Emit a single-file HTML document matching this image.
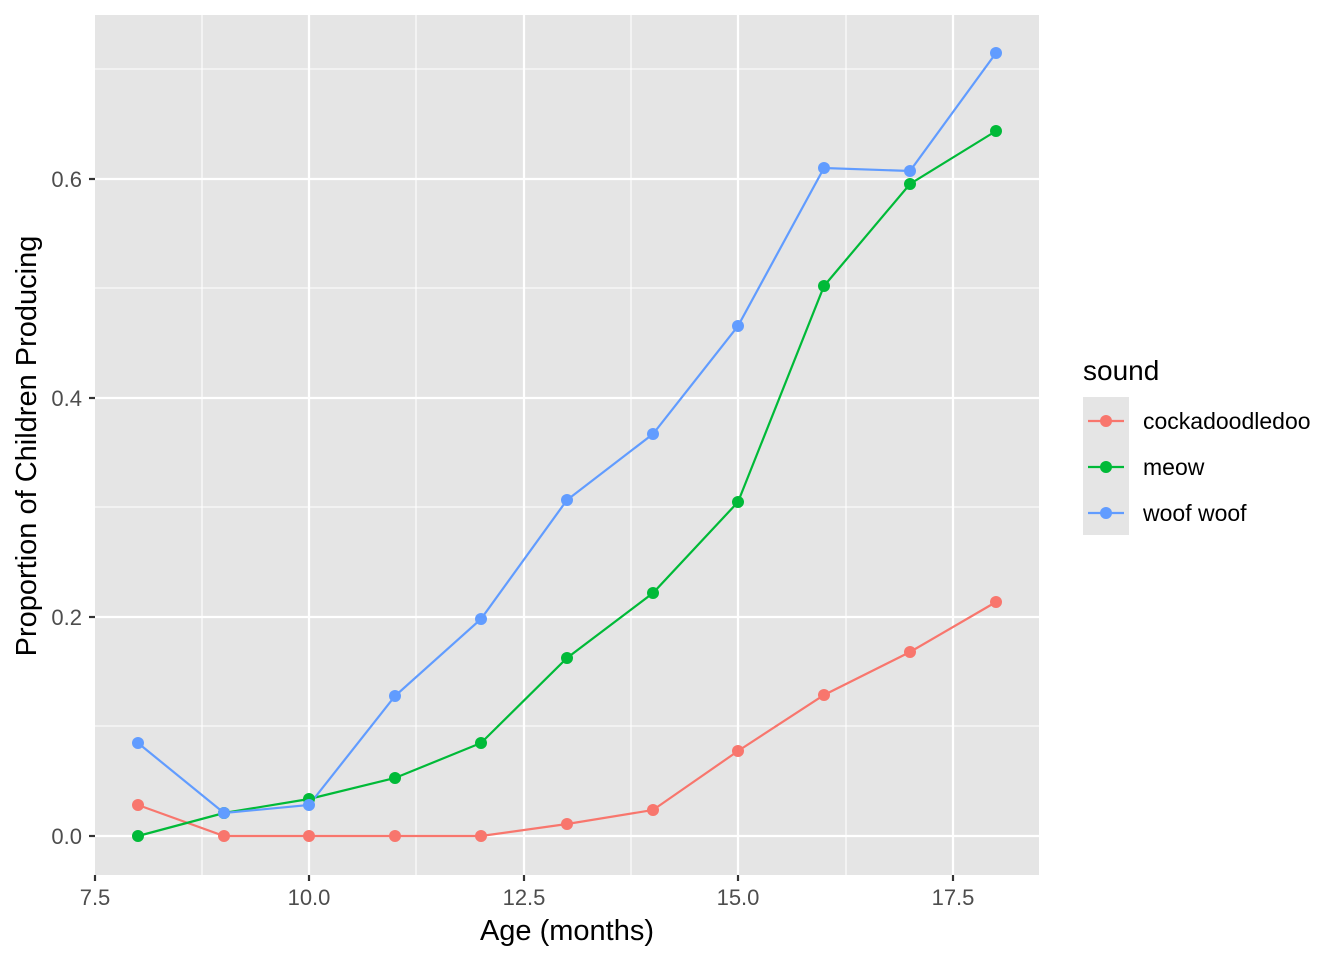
<!DOCTYPE html><html><head><style>body{margin:0;background:#fff}svg{display:block}text{font-family:"Liberation Sans",sans-serif}</style></head><body>
<svg width="1344" height="960" xmlns="http://www.w3.org/2000/svg">
<rect width="1344" height="960" fill="#fff"/>
<rect x="95" y="15" width="944" height="860" fill="#e5e5e5"/>
<g stroke="#fff" stroke-width="1.1">
<line x1="202" y1="15" x2="202" y2="875"/><line x1="416" y1="15" x2="416" y2="875"/><line x1="631" y1="15" x2="631" y2="875"/><line x1="846" y1="15" x2="846" y2="875"/>
<line x1="95" y1="726" x2="1039" y2="726"/><line x1="95" y1="507" x2="1039" y2="507"/><line x1="95" y1="288" x2="1039" y2="288"/><line x1="95" y1="69" x2="1039" y2="69"/>
</g>
<g stroke="#fff" stroke-width="2.2">
<line x1="309" y1="15" x2="309" y2="875"/><line x1="524" y1="15" x2="524" y2="875"/><line x1="738" y1="15" x2="738" y2="875"/><line x1="953" y1="15" x2="953" y2="875"/>
<line x1="95" y1="836" x2="1039" y2="836"/><line x1="95" y1="617" x2="1039" y2="617"/><line x1="95" y1="398" x2="1039" y2="398"/><line x1="95" y1="179" x2="1039" y2="179"/>
</g>
<g fill="none" stroke-width="2.2">
<polyline stroke="#F8766D" points="138,805 224,836 309,836 395,836 481,836 567,824 653,810 738,751 824,695 910,652 996,602"/>
<polyline stroke="#00BA38" points="138,836 224,813 309,799 395,778 481,743 567,658 653,593 738,502 824,286 910,184 996,131"/>
<polyline stroke="#619CFF" points="138,743 224,813 309,805 395,696 481,619 567,500 653,434 738,326 824,168 910,171 996,53"/>
</g>
<g fill="#F8766D"><circle cx="138" cy="805" r="6"/><circle cx="224" cy="836" r="6"/><circle cx="309" cy="836" r="6"/><circle cx="395" cy="836" r="6"/><circle cx="481" cy="836" r="6"/><circle cx="567" cy="824" r="6"/><circle cx="653" cy="810" r="6"/><circle cx="738" cy="751" r="6"/><circle cx="824" cy="695" r="6"/><circle cx="910" cy="652" r="6"/><circle cx="996" cy="602" r="6"/></g>
<g fill="#00BA38"><circle cx="138" cy="836" r="6"/><circle cx="224" cy="813" r="6"/><circle cx="309" cy="799" r="6"/><circle cx="395" cy="778" r="6"/><circle cx="481" cy="743" r="6"/><circle cx="567" cy="658" r="6"/><circle cx="653" cy="593" r="6"/><circle cx="738" cy="502" r="6"/><circle cx="824" cy="286" r="6"/><circle cx="910" cy="184" r="6"/><circle cx="996" cy="131" r="6"/></g>
<g fill="#619CFF"><circle cx="138" cy="743" r="6"/><circle cx="224" cy="813" r="6"/><circle cx="309" cy="805" r="6"/><circle cx="395" cy="696" r="6"/><circle cx="481" cy="619" r="6"/><circle cx="567" cy="500" r="6"/><circle cx="653" cy="434" r="6"/><circle cx="738" cy="326" r="6"/><circle cx="824" cy="168" r="6"/><circle cx="910" cy="171" r="6"/><circle cx="996" cy="53" r="6"/></g>
<g stroke="#333" stroke-width="2.2">
<line x1="89" y1="836" x2="95" y2="836"/><line x1="89" y1="617" x2="95" y2="617"/><line x1="89" y1="398" x2="95" y2="398"/><line x1="89" y1="179" x2="95" y2="179"/>
<line x1="95" y1="875" x2="95" y2="881"/><line x1="309" y1="875" x2="309" y2="881"/><line x1="524" y1="875" x2="524" y2="881"/><line x1="738" y1="875" x2="738" y2="881"/><line x1="953" y1="875" x2="953" y2="881"/>
</g>
<g fill="#4d4d4d" font-size="22" text-anchor="end">
<text x="82" y="844">0.0</text><text x="82" y="625">0.2</text><text x="82" y="406">0.4</text><text x="82" y="187">0.6</text>
</g>
<g fill="#4d4d4d" font-size="22" text-anchor="middle">
<text x="95" y="905">7.5</text><text x="309" y="905">10.0</text><text x="524" y="905">12.5</text><text x="738" y="905">15.0</text><text x="953" y="905">17.5</text>
</g>
<text x="567" y="940" font-size="29" text-anchor="middle">Age (months)</text>
<text transform="translate(36,446) rotate(-90)" font-size="29" text-anchor="middle">Proportion of Children Producing</text>
<text x="1083" y="380" font-size="28">sound</text>
<rect x="1083" y="397" width="46" height="138" fill="#e5e5e5"/>
<g stroke-width="2.2"><line x1="1088" y1="421" x2="1124" y2="421" stroke="#F8766D"/><line x1="1088" y1="467" x2="1124" y2="467" stroke="#00BA38"/><line x1="1088" y1="513" x2="1124" y2="513" stroke="#619CFF"/></g>
<circle cx="1106" cy="421" r="6" fill="#F8766D"/><circle cx="1106" cy="467" r="6" fill="#00BA38"/><circle cx="1106" cy="513" r="6" fill="#619CFF"/>
<g font-size="23"><text x="1143" y="429">cockadoodledoo</text><text x="1143" y="475">meow</text><text x="1143" y="521">woof woof</text></g>
</svg></body></html>
